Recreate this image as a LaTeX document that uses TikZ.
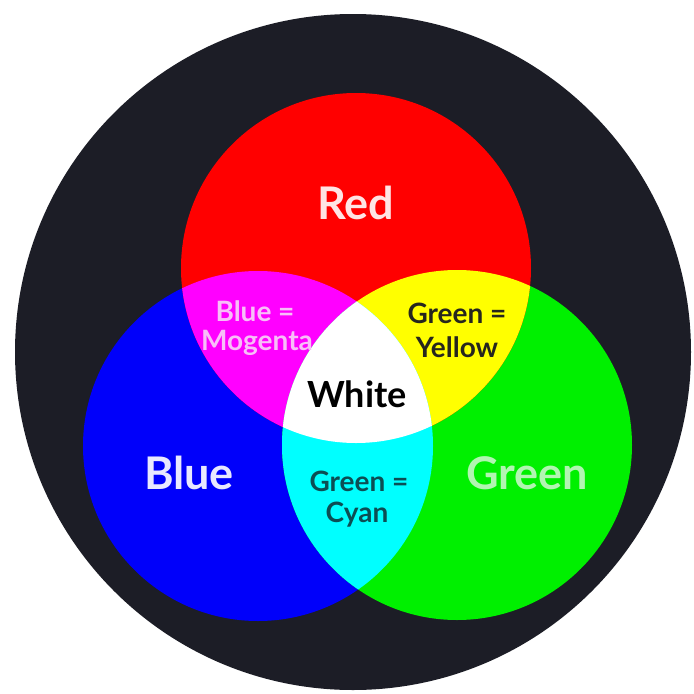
\documentclass[tikz,border=0pt]{standalone}
\usepackage{fontspec}
\setmainfont{Lato}
\definecolor{bgdark}{RGB}{28,29,38}
\definecolor{cred}{RGB}{255,0,0}
\definecolor{cblue}{RGB}{0,0,250}
\definecolor{cgreen}{RGB}{0,240,0}
\definecolor{cmag}{RGB}{255,0,255}
\definecolor{cyel}{RGB}{255,255,0}
\definecolor{ccyan}{RGB}{0,255,255}
\definecolor{tred}{RGB}{255,228,228}
\definecolor{tblue}{RGB}{232,232,255}
\definecolor{tgreen}{RGB}{178,245,178}
\definecolor{tmag}{RGB}{248,190,248}
\definecolor{tyel}{RGB}{38,38,30}
\definecolor{tcyan}{RGB}{12,78,84}
\tikzset{
  biglabel/.style={font=\fontsize{45}{50}\selectfont\bfseries, anchor=base, inner sep=0pt},
  midlabel/.style={font=\fontsize{36}{40}\selectfont\bfseries, anchor=base, inner sep=0pt},
  smalllabel/.style={font=\fontsize{28}{32}\selectfont\bfseries, anchor=base, inner sep=0pt}
}
\begin{document}
\begin{tikzpicture}[x=1pt,y=-1pt]
\useasboundingbox (0,0) rectangle (694,694);
\fill[white] (0,0) rectangle (694,694);
\fill[bgdark] (353,352) circle (338pt);
% primary circles
\fill[cblue] (258,446) circle (175pt);
\fill[cgreen] (457,445) circle (175pt);
\fill[cred] (356,268) circle (175pt);
% overlaps
\begin{scope}
  \clip (356,268) circle (175pt);
  \fill[cmag] (258,446) circle (175pt);
  \fill[cyel] (457,445) circle (175pt);
\end{scope}
\begin{scope}
  \clip (258,446) circle (175pt);
  \fill[ccyan] (457,445) circle (175pt);
\end{scope}
\begin{scope}
  \clip (356,268) circle (175pt);
  \clip (258,446) circle (175pt);
  \fill[white] (457,445) circle (175pt);
\end{scope}
% labels
\node[biglabel, text=tred] (lred) at (356,219) {Red};
\node[biglabel, text=tblue] (lblue) at (189,489) {Blue};
\node[biglabel, text=tgreen] (lgreen) at (527,489) {Green};
\node[midlabel, text=black] (lwhite) at (357,407) {White};
\node[smalllabel, text=tmag] (lmag1) at (255,321) {Blue =};
\node[smalllabel, text=tmag] (lmag2) at (257,350) {Mogenta};
\node[smalllabel, text=tyel] (lyel1) at (457,323) {Green =};
\node[smalllabel, text=tyel] (lyel2) at (457,357) {Yellow};
\node[smalllabel, text=tcyan] (lcyan1) at (359,491) {Green =};
\node[smalllabel, text=tcyan] (lcyan2) at (357,522) {Cyan};
\end{tikzpicture}
\end{document}
